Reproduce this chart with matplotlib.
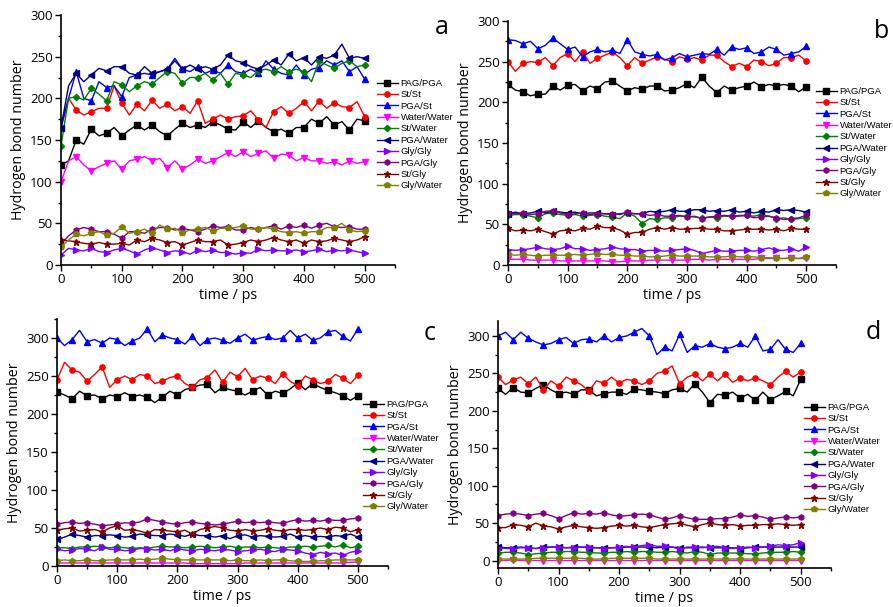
import numpy as np
import matplotlib
matplotlib.use("Agg")
import matplotlib.pyplot as plt
from matplotlib.ticker import MultipleLocator

plt.rcParams["font.family"] = ["Open Sans", "DejaVu Sans"]

# time axis: one point every 12.5 ps, symbols every 25 ps
time_ps = np.linspace(0, 500, 41)

labels = ["PAG/PGA", "St/St", "PGA/St", "Water/Water", "St/Water",
          "PGA/Water", "Gly/Gly", "PGA/Gly", "St/Gly", "Gly/Water"]
colors = ["#000000", "#ff0000", "#0000ff", "#ff00ff", "#008000",
          "#000080", "#8000ff", "#800080", "#800000", "#808000"]
markers = ["s", "o", "^", "v", "D", "<", ">", "h", "*", "p"]

# ---- panel a ----
a_pag_pga = [120, 125, 150, 145, 163, 155, 158, 165, 155, 162, 168, 162, 168, 160, 155, 163, 170, 165, 168, 165,
             172, 168, 163, 162, 172, 165, 173, 165, 160, 163, 158, 165, 165, 175, 170, 178, 168, 172, 162, 175, 173]
a_st_st = [165, 200, 186, 180, 184, 188, 188, 215, 194, 180, 193, 185, 198, 188, 193, 185, 190, 182, 197, 170,
           175, 180, 175, 178, 179, 185, 174, 165, 184, 190, 182, 188, 196, 185, 197, 188, 195, 190, 189, 196, 178]
a_pga_st = [165, 200, 232, 200, 197, 220, 213, 215, 202, 225, 228, 230, 228, 232, 235, 248, 235, 232, 238, 230,
            234, 230, 240, 232, 230, 235, 230, 245, 235, 230, 228, 240, 228, 235, 237, 245, 240, 245, 232, 238, 223]
a_water_water = [100, 125, 130, 120, 113, 118, 122, 125, 115, 125, 127, 130, 125, 128, 117, 125, 115, 120, 127, 122,
                 125, 130, 135, 130, 136, 130, 134, 137, 128, 133, 132, 125, 129, 125, 125, 122, 124, 120, 125, 122, 124]
a_st_water = [143, 200, 202, 198, 212, 205, 197, 220, 216, 208, 215, 220, 217, 225, 232, 230, 218, 225, 225, 230,
              222, 230, 217, 230, 228, 225, 233, 235, 232, 238, 232, 235, 232, 220, 245, 240, 236, 242, 245, 238, 240]
a_pga_water = [165, 215, 230, 220, 228, 236, 233, 238, 238, 230, 228, 238, 230, 232, 235, 245, 235, 240, 235, 238,
               235, 240, 252, 245, 243, 238, 235, 240, 246, 240, 253, 245, 249, 240, 250, 248, 252, 265, 248, 250, 248]
a_gly_gly = [12, 20, 18, 17, 20, 16, 15, 18, 20, 17, 13, 18, 21, 18, 15, 17, 16, 13, 18, 16,
             18, 15, 15, 13, 15, 14, 19, 17, 18, 17, 17, 18, 16, 17, 19, 16, 18, 17, 18, 16, 14]
a_pga_gly = [25, 35, 42, 45, 43, 40, 40, 37, 32, 40, 40, 38, 43, 45, 45, 42, 44, 42, 40, 43,
             47, 45, 46, 42, 42, 45, 43, 45, 47, 43, 47, 45, 48, 44, 48, 50, 46, 45, 46, 43, 43]
a_st_gly = [30, 29, 28, 26, 25, 27, 25, 25, 26, 24, 30, 28, 32, 30, 27, 28, 24, 27, 30, 28,
            28, 30, 24, 25, 27, 30, 28, 30, 33, 30, 28, 30, 26, 30, 28, 29, 32, 30, 28, 30, 34]
a_gly_water = [22, 30, 37, 35, 38, 40, 36, 38, 46, 38, 40, 43, 38, 48, 43, 44, 39, 42, 43, 45,
               41, 44, 44, 45, 47, 43, 43, 45, 43, 40, 39, 40, 38, 40, 40, 45, 45, 50, 42, 40, 41]

# ---- panel b ----
b_pag_pga = [222, 215, 213, 208, 210, 210, 220, 215, 221, 222, 214, 220, 217, 225, 226, 220, 214, 218, 216, 220,
             220, 214, 215, 218, 223, 218, 231, 220, 212, 220, 215, 218, 220, 225, 219, 222, 220, 222, 220, 213, 219]
b_st_st = [250, 238, 248, 250, 249, 255, 245, 255, 260, 250, 262, 248, 254, 258, 262, 255, 245, 255, 248, 252,
           256, 253, 250, 256, 253, 255, 252, 258, 258, 250, 244, 248, 244, 252, 250, 245, 248, 255, 255, 258, 251]
b_pga_st = [277, 276, 272, 275, 266, 270, 279, 272, 265, 268, 256, 262, 265, 262, 264, 260, 277, 262, 259, 257,
            259, 252, 255, 260, 256, 258, 260, 259, 265, 258, 268, 265, 267, 260, 262, 268, 265, 258, 260, 262, 269]
b_water_water = [7, 7, 7, 6, 6, 6, 6, 5, 5, 5, 5, 5, 5, 5, 4, 4, 5, 5, 5, 6,
                 6, 6, 6, 6, 6, 7, 7, 6, 7, 7, 7, 7, 7, 7, 8, 8, 8, 8, 8, 8, 8]
b_st_water = [61, 62, 62, 60, 58, 63, 64, 62, 61, 62, 60, 61, 62, 60, 59, 57, 64, 60, 51, 57,
              56, 58, 58, 60, 60, 59, 58, 59, 58, 60, 60, 61, 61, 60, 62, 60, 57, 58, 56, 57, 58]
b_pga_water = [63, 65, 63, 64, 66, 64, 66, 65, 64, 65, 63, 64, 64, 63, 62, 63, 64, 63, 63, 66,
               65, 66, 68, 66, 66, 68, 68, 66, 67, 66, 68, 65, 66, 64, 66, 65, 68, 67, 68, 67, 65]
b_gly_gly = [19, 18, 19, 20, 22, 20, 19, 20, 23, 20, 20, 18, 19, 20, 22, 20, 19, 19, 17, 18,
             18, 17, 18, 19, 20, 18, 14, 16, 18, 17, 17, 18, 18, 17, 19, 21, 18, 18, 20, 17, 22]
b_pga_gly = [64, 63, 64, 62, 63, 66, 67, 64, 62, 63, 64, 62, 63, 63, 63, 62, 65, 63, 63, 61,
             62, 60, 60, 61, 59, 60, 57, 59, 60, 61, 60, 60, 61, 58, 59, 60, 58, 56, 57, 58, 61]
b_st_gly = [45, 42, 43, 42, 44, 41, 38, 42, 43, 42, 45, 44, 48, 46, 46, 43, 38, 40, 40, 44,
            46, 44, 46, 44, 44, 45, 45, 44, 44, 42, 42, 43, 44, 44, 44, 43, 44, 42, 45, 44, 44]
b_gly_water = [13, 12, 13, 12, 11, 12, 12, 12, 12, 13, 12, 13, 14, 13, 13, 12, 12, 11, 11, 10,
               10, 11, 12, 11, 11, 11, 11, 10, 10, 10, 11, 10, 10, 10, 9, 9, 8, 8, 9, 8, 10]

# ---- panel c ----
c_pag_pga = [229, 225, 220, 230, 224, 225, 220, 225, 223, 228, 223, 225, 222, 215, 222, 230, 225, 232, 235, 238,
             239, 228, 235, 232, 230, 225, 230, 235, 225, 230, 227, 233, 241, 232, 240, 235, 231, 228, 224, 218, 224]
c_st_st = [245, 268, 258, 255, 243, 252, 262, 235, 245, 250, 245, 252, 250, 240, 243, 248, 250, 240, 235, 245,
           248, 258, 242, 255, 249, 260, 245, 250, 247, 240, 253, 243, 237, 250, 245, 240, 243, 252, 247, 240, 251]
c_pga_st = [300, 290, 298, 310, 295, 298, 293, 300, 298, 290, 296, 300, 312, 295, 304, 300, 298, 292, 302, 290,
            298, 300, 297, 293, 300, 305, 297, 300, 302, 298, 300, 310, 300, 305, 297, 300, 308, 310, 302, 296, 312]
c_water_water = [4, 4, 4, 4, 4, 4, 4, 4, 4, 4, 4, 4, 4, 4, 4, 4, 4, 4, 3, 3,
                 3, 3, 3, 3, 3, 4, 4, 4, 4, 4, 4, 4, 4, 4, 4, 4, 4, 4, 4, 5, 5]
c_st_water = [24, 24, 23, 25, 25, 26, 25, 24, 25, 24, 23, 24, 23, 25, 26, 25, 25, 24, 25, 26,
              25, 24, 25, 26, 24, 25, 25, 24, 25, 24, 23, 25, 25, 26, 25, 26, 27, 25, 28, 24, 26]
c_pga_water = [35, 38, 42, 40, 38, 40, 40, 41, 40, 38, 39, 42, 41, 40, 40, 42, 41, 39, 42, 40,
               40, 38, 40, 36, 40, 41, 38, 40, 39, 38, 39, 42, 38, 40, 38, 39, 38, 40, 39, 42, 38]
c_gly_gly = [22, 20, 21, 23, 22, 20, 25, 22, 22, 20, 21, 23, 23, 21, 22, 20, 23, 21, 20, 22,
             21, 20, 22, 21, 19, 20, 21, 22, 20, 19, 22, 21, 20, 17, 15, 18, 16, 17, 14, 18, 20]
c_pga_gly = [55, 57, 58, 56, 57, 55, 53, 54, 55, 57, 56, 58, 62, 60, 58, 56, 55, 57, 58, 56,
             55, 54, 55, 57, 59, 57, 58, 57, 58, 57, 56, 59, 61, 59, 60, 59, 61, 60, 60, 62, 63]
c_st_gly = [47, 49, 50, 46, 47, 48, 45, 50, 53, 47, 48, 46, 43, 48, 47, 46, 45, 47, 42, 48,
            50, 52, 50, 47, 46, 48, 46, 47, 49, 47, 46, 48, 48, 47, 48, 50, 48, 51, 50, 45, 48]
c_gly_water = [7, 8, 7, 7, 8, 7, 7, 8, 8, 8, 8, 9, 8, 9, 10, 9, 8, 8, 8, 8,
               8, 8, 8, 7, 8, 7, 7, 8, 7, 8, 8, 7, 6, 6, 6, 7, 7, 8, 8, 8, 8]

# ---- panel d ----
d_pag_pga = [230, 222, 231, 225, 224, 230, 235, 228, 223, 225, 222, 228, 228, 220, 223, 225, 225, 222, 229, 228,
             226, 225, 223, 228, 230, 225, 236, 225, 211, 222, 221, 225, 217, 222, 214, 225, 215, 220, 226, 220, 242]
d_st_st = [245, 235, 241, 245, 236, 245, 228, 240, 233, 245, 240, 235, 226, 240, 237, 245, 237, 242, 240, 235,
           240, 250, 253, 260, 236, 245, 249, 240, 249, 240, 249, 238, 244, 240, 244, 240, 235, 245, 253, 245, 252]
d_pga_st = [300, 305, 295, 305, 297, 292, 288, 290, 295, 298, 290, 295, 296, 292, 300, 292, 298, 300, 305, 310,
            300, 275, 285, 280, 302, 278, 287, 285, 290, 285, 283, 285, 290, 285, 300, 280, 282, 295, 282, 278, 290]
d_water_water = [0, 0, 1, 0, 0, 0, 0, 0, 0, 0, 0, 0, 0, 0, 0, 0, 0, 0, 0, 0,
                 0, 0, 0, 0, 0, 0, 0, 0, 0, 0, 0, 0, 0, 0, 0, 0, 0, 0, 0, 0, 0]
d_st_water = [10, 11, 11, 10, 8, 9, 10, 11, 11, 12, 12, 11, 11, 10, 10, 11, 11, 12, 11, 12,
              12, 11, 11, 12, 11, 10, 12, 11, 8, 10, 10, 10, 10, 9, 9, 10, 11, 11, 11, 12, 11]
d_pga_water = [18, 17, 17, 18, 17, 16, 18, 18, 18, 17, 18, 18, 17, 17, 17, 17, 17, 18, 18, 18,
               18, 17, 18, 18, 17, 17, 17, 18, 17, 17, 17, 17, 16, 17, 18, 18, 18, 18, 18, 18, 18]
d_gly_gly = [17, 16, 16, 17, 17, 16, 17, 18, 18, 17, 17, 18, 18, 17, 16, 17, 18, 19, 18, 20,
             21, 19, 19, 18, 15, 18, 18, 17, 18, 19, 17, 16, 17, 18, 17, 18, 19, 21, 20, 21, 24]
d_pga_gly = [60, 62, 63, 62, 60, 62, 63, 60, 56, 60, 64, 62, 63, 62, 64, 61, 59, 60, 61, 62,
             61, 58, 55, 57, 60, 57, 55, 55, 55, 56, 56, 58, 61, 59, 60, 58, 55, 57, 58, 57, 58]
d_st_gly = [44, 44, 48, 47, 45, 50, 46, 45, 42, 45, 47, 45, 44, 43, 44, 46, 47, 46, 47, 45,
            44, 46, 48, 49, 50, 47, 45, 48, 50, 48, 47, 48, 46, 47, 47, 48, 48, 49, 48, 47, 48]
d_gly_water = [2, 2, 2, 2, 2, 3, 3, 3, 3, 3, 3, 3, 2, 2, 2, 3, 3, 3, 3, 3,
               3, 2, 2, 2, 2, 2, 2, 2, 2, 2, 2, 2, 2, 2, 2, 2, 2, 2, 2, 2, 2]

panels = {
    "a": [a_pag_pga, a_st_st, a_pga_st, a_water_water, a_st_water, a_pga_water,
          a_gly_gly, a_pga_gly, a_st_gly, a_gly_water],
    "b": [b_pag_pga, b_st_st, b_pga_st, b_water_water, b_st_water, b_pga_water,
          b_gly_gly, b_pga_gly, b_st_gly, b_gly_water],
    "c": [c_pag_pga, c_st_st, c_pga_st, c_water_water, c_st_water, c_pga_water,
          c_gly_gly, c_pga_gly, c_st_gly, c_gly_water],
    "d": [d_pag_pga, d_st_st, d_pga_st, d_water_water, d_st_water, d_pga_water,
          d_gly_gly, d_pga_gly, d_st_gly, d_gly_water],
}

# axes rectangles (pixels: left, top, right, bottom), y limits, legend anchor, letter position
W, H = 893, 607
layout = {
    "a": ((61, 15, 395, 265), (0, 300), (377, 79), (442, 28)),
    "b": ((508, 21, 836, 265), (0, 300), (816, 87), (882, 32)),
    "c": ((57, 319, 388, 566), (0, 325), (363, 400), (430, 334)),
    "d": ((498, 321, 831, 568), (-10, 320), (804, 403), (873, 333)),
}

fig = plt.figure(figsize=(W / 100, H / 100), dpi=100)

for key, series in panels.items():
    (l, t, r, b), ylim, (lx, ly), (px, py) = layout[key]
    ax = fig.add_axes([l / W, 1 - b / H, (r - l) / W, (b - t) / H])
    for vals, lab, col, mk in zip(series, labels, colors, markers):
        ms = 3.2 if mk == "D" else (4.8 if mk == "*" else 3.8)
        ax.plot(time_ps, vals, color=col, lw=1.0, marker=mk, ms=ms,
                markevery=2, label=lab)
    ax.set_xlim(0, 550)
    ax.set_ylim(*ylim)
    ax.xaxis.set_major_locator(MultipleLocator(100))
    ax.xaxis.set_minor_locator(MultipleLocator(50))
    ax.yaxis.set_major_locator(MultipleLocator(50))
    ax.yaxis.set_minor_locator(MultipleLocator(25))
    ax.set_xticks([0, 100, 200, 300, 400, 500])
    ax.spines["top"].set_visible(False)
    ax.spines["right"].set_visible(False)
    ax.spines["left"].set_linewidth(1.2)
    ax.spines["bottom"].set_linewidth(1.2)
    ax.tick_params(which="major", direction="out", length=4, width=1.0, labelsize=9.5, pad=2)
    ax.tick_params(which="minor", direction="out", length=2.5, width=1.0)
    ax.set_xlabel("time / ps", fontsize=10.3, labelpad=1)
    ax.set_ylabel("Hydrogen bond number", fontsize=10.3, labelpad=3)
    ax.legend(loc="upper left", bbox_to_anchor=(lx / W, 1 - ly / H),
              bbox_transform=fig.transFigure, frameon=False, borderpad=0,
              borderaxespad=0, handlelength=2.2, handletextpad=0.3,
              labelspacing=0.25, prop={"family": "Liberation Sans", "size": 6.8})
    fig.text(px / W, 1 - py / H, key, fontsize=18, ha="center", va="center")

fig.savefig("out.png", dpi=100)
